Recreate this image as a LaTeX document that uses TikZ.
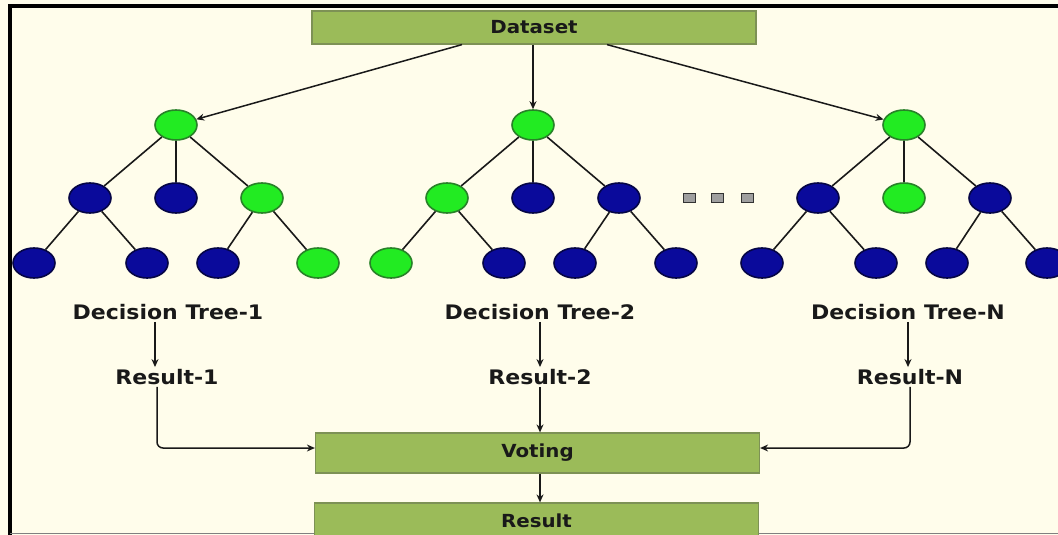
\documentclass[tikz,border=0pt]{standalone}
\usepackage{fontspec}
\setmainfont{DejaVu Sans}[FakeStretch=1.1]
\usepackage{tikz}
\usetikzlibrary{positioning}
\usetikzlibrary{arrows.meta}
\usetikzlibrary{shapes.geometric}

\definecolor{cream}{RGB}{255,253,235}
\definecolor{gfill}{RGB}{34,235,34}
\definecolor{gline}{RGB}{40,130,40}
\definecolor{bfill}{RGB}{10,10,155}
\definecolor{bline}{RGB}{5,5,70}
\definecolor{barfill}{RGB}{155,187,89}
\definecolor{barline}{RGB}{125,145,85}
\definecolor{ink}{RGB}{25,25,25}

\tikzset{
    gnode/.style={ellipse, draw=gline, fill=gfill, line width=1.6pt,
        minimum width=42pt, minimum height=30pt, inner sep=0pt},
    bnode/.style={ellipse, draw=bline, fill=bfill, line width=1.6pt,
        minimum width=42pt, minimum height=30pt, inner sep=0pt},
    bar/.style={rectangle, draw=barline, fill=barfill, line width=1.2pt,
        minimum width=444pt, minimum height=33pt, text=ink,
        font=\bfseries\fontsize{18}{18}\selectfont},
    lab/.style={text=ink, inner sep=2pt, font=\bfseries\fontsize{20}{20}\selectfont},
    arr/.style={draw=ink, line width=1.5pt, -{Stealth[length=8pt,width=7pt]}},
    edge/.style={draw=ink, line width=1.6pt},
    dot/.style={rectangle, draw=gray!40!black, fill=gray!75, line width=0.8pt,
        minimum width=12pt, minimum height=9pt, inner sep=0pt}
}

\begin{document}
\begin{tikzpicture}[x=1pt, y=-1pt]
        \useasboundingbox[fill=cream] (0,0) rectangle (1058,535);

        % frame
        \draw[line width=4pt] (10,535) -- (10,6.5) -- (1058,6.5);
        \draw[gray, line width=1.5pt] (10,533.5) -- (1058,533.5);

        \node(data) [bar] at (534,27.5) {Dataset};

        % tree 1
        \node(t1r) [gnode] at (176,125) {};
        \node(t1a) [bnode] at (90,198) {};
        \node(t1b) [bnode] at (176,198) {};
        \node(t1c) [gnode] at (262,198) {};
        \node(t1aa) [bnode] at (34,263) {};
        \node(t1ab) [bnode] at (147,263) {};
        \node(t1ca) [bnode] at (218,263) {};
        \node(t1cb) [gnode] at (318,263) {};

        % tree 2
        \node(t2r) [gnode] at (533,125) {};
        \node(t2a) [gnode] at (447,198) {};
        \node(t2b) [bnode] at (533,198) {};
        \node(t2c) [bnode] at (619,198) {};
        \node(t2aa) [gnode] at (391,263) {};
        \node(t2ab) [bnode] at (504,263) {};
        \node(t2ca) [bnode] at (575,263) {};
        \node(t2cb) [bnode] at (676,263) {};

        % tree N
        \node(tnr) [gnode] at (904,125) {};
        \node(tna) [bnode] at (818,198) {};
        \node(tnb) [gnode] at (904,198) {};
        \node(tnc) [bnode] at (990,198) {};
        \node(tnaa) [bnode] at (762,263) {};
        \node(tnab) [bnode] at (876,263) {};
        \node(tnca) [bnode] at (947,263) {};
        \node(tncb) [bnode] at (1047,263) {};

        \node(dot1) [dot] at (689,198) {};
        \node(dot2) [dot] at (717,198) {};
        \node(dot3) [dot] at (747,198) {};

        \draw[edge] (t1r) -- (t1a);
        \draw[edge] (t1r) -- (t1b);
        \draw[edge] (t1r) -- (t1c);
        \draw[edge] (t1a) -- (t1aa);
        \draw[edge] (t1a) -- (t1ab);
        \draw[edge] (t1c) -- (t1ca);
        \draw[edge] (t1c) -- (t1cb);

        \draw[edge] (t2r) -- (t2a);
        \draw[edge] (t2r) -- (t2b);
        \draw[edge] (t2r) -- (t2c);
        \draw[edge] (t2a) -- (t2aa);
        \draw[edge] (t2a) -- (t2ab);
        \draw[edge] (t2c) -- (t2ca);
        \draw[edge] (t2c) -- (t2cb);

        \draw[edge] (tnr) -- (tna);
        \draw[edge] (tnr) -- (tnb);
        \draw[edge] (tnr) -- (tnc);
        \draw[edge] (tna) -- (tnaa);
        \draw[edge] (tna) -- (tnab);
        \draw[edge] (tnc) -- (tnca);
        \draw[edge] (tnc) -- (tncb);

        \draw[arr] ([xshift=-72pt]data.south) -- (t1r);
        \draw[arr] (data.south -| t2r) -- (t2r);
        \draw[arr] ([xshift=73pt]data.south) -- (tnr);

        % labels
        \node(dt1) [lab] at (168,312) {Decision Tree-1};
        \node(dt2) [lab] at (540,312) {Decision Tree-2};
        \node(dtn) [lab] at (908,312) {Decision Tree-N};
        \node(res1) [lab] at (167,377) {Result-1};
        \node(res2) [lab] at (540,377) {Result-2};
        \node(resn) [lab] at (910,377) {Result-N};

        \node(vote) [bar, minimum height=40pt] at (537.5,453) {Voting};
        \node(result) [bar, minimum height=35pt] at (536.5,520.5) {Result};

        \draw[arr] ([xshift=-13pt]dt1.south) -- ([xshift=-13pt]dt1.south |- res1.north);
        \draw[arr] (dt2.south) -- (dt2.south |- res2.north);
        \draw[arr] (dtn.south) -- (dtn.south |- resn.north);

        \draw[arr, rounded corners=6pt] ([xshift=-10pt]res1.south) |- ([yshift=5pt]vote.west);
        \draw[arr] (res2.south) -- (res2.south |- vote.north);
        \draw[arr, rounded corners=6pt] (resn.south) |- ([yshift=5pt]vote.east);
        \draw[arr] ([xshift=2.5pt]vote.south) -- ([xshift=2.5pt]vote.south |- result.north);
    \end{tikzpicture}
\end{document}
